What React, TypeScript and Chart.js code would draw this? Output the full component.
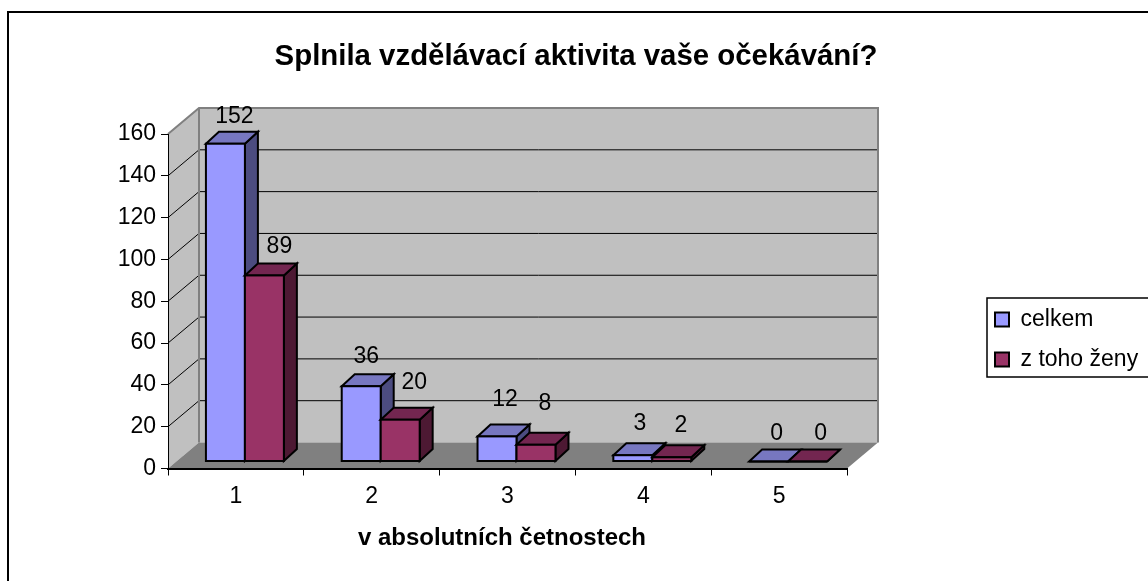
import React, { useEffect, useRef } from "react";
import { Chart, registerables } from "chart.js";

Chart.register(...registerables);

const categories = ["1", "2", "3", "4", "5"];
const celkem = [152, 36, 12, 3, 0];
const zToHoZeny = [89, 20, 8, 2, 0];
const seriesNames = ["celkem", "z toho ženy"];
const titleText = "Splnila vzdělávací aktivita vaše očekávání?";
const xTitleText = "v absolutních četnostech";
const FONT = "'Liberation Sans', Arial, sans-serif";

const FLOOR_DX = 31, FLOOR_DY = -26;
const BAR_DX = 9, BAR_DY = -7;
const DEPTH_DX = 13, DEPTH_DY = -12;
const FACE = [
  { top: "#7777C0", side: "#4C4C80" },
  { top: "#732650", side: "#4D1933" },
];
// optical nudges of the value labels relative to the bar top
const LABEL_NUDGE_X = [[9, 5, 8, 7, 8], [15, 14, 9, 9, 13]];
const LABEL_NUDGE_Y = [[-27, -30, -37, -32, -28], [-29, -37, -41, -32, -28]];

function drawBars(chart: any, index: number) {
  const { ctx } = chart;
  const meta = chart.getDatasetMeta(index);
  const face = FACE[index];
  ctx.save();
  ctx.translate(BAR_DX, BAR_DY);
  ctx.lineWidth = 2; ctx.strokeStyle = "#000"; ctx.lineJoin = "miter";
  meta.data.forEach((bar: any) => {
    const l = bar.x - bar.width / 2, r = bar.x + bar.width / 2;
    const top = bar.y, base = bar.base;
    ctx.fillStyle = face.side;
    ctx.beginPath();
    ctx.moveTo(r, top); ctx.lineTo(r + DEPTH_DX, top + DEPTH_DY);
    ctx.lineTo(r + DEPTH_DX, base + DEPTH_DY); ctx.lineTo(r, base);
    ctx.closePath(); ctx.fill(); ctx.stroke();
    ctx.fillStyle = face.top;
    ctx.beginPath();
    ctx.moveTo(l, top); ctx.lineTo(l + DEPTH_DX, top + DEPTH_DY);
    ctx.lineTo(r + DEPTH_DX, top + DEPTH_DY); ctx.lineTo(r, top);
    ctx.closePath(); ctx.fill(); ctx.stroke();
  });
  meta.controller.draw();
  meta.data.forEach((bar: any) => {
    ctx.strokeRect(bar.x - bar.width / 2, bar.y, bar.width, bar.base - bar.y);
  });
  ctx.restore();
}

const scene = {
  id: "scene",
  afterLayout(chart: any) {
    const legend = chart.legend;
    legend.left = 978; legend.right = 1148; legend.top = 291; legend.bottom = 460;
    const t = chart.titleBlock;
    t.left = 0; t.right = 1152;
    const xs = chart.scales.x;
    if (!xs.__shifted) {
      xs.__shifted = true;
      const orig = xs.drawTitle;
      xs.drawTitle = function () {
        const c = this.ctx;
        c.save(); c.translate(-5.5, 0);
        orig.call(this);
        c.restore();
      };
    }
  },
  beforeDraw(chart: any) {
    const { ctx, chartArea: a, scales } = chart;
    const y = scales.y;
    ctx.save();
    ctx.fillStyle = "#fff";
    ctx.fillRect(0, 0, chart.width, chart.height);
    // outer frame
    ctx.strokeStyle = "#000"; ctx.lineWidth = 2;
    ctx.beginPath();
    ctx.moveTo(chart.width, 12); ctx.lineTo(8, 12); ctx.lineTo(8, chart.height);
    ctx.stroke();
    // legend frame
    ctx.lineWidth = 1.5;
    ctx.beginPath();
    ctx.moveTo(chart.width, 298); ctx.lineTo(987, 298); ctx.lineTo(987, 377); ctx.lineTo(chart.width, 377);
    ctx.stroke();
    const y0 = y.getPixelForValue(0), yTop = y.getPixelForValue(160);
    // walls
    ctx.fillStyle = "#C0C0C0";
    ctx.beginPath();
    ctx.moveTo(a.left, y0); ctx.lineTo(a.left, yTop);
    ctx.lineTo(a.left + FLOOR_DX, yTop + FLOOR_DY);
    ctx.lineTo(a.right + FLOOR_DX, yTop + FLOOR_DY);
    ctx.lineTo(a.right + FLOOR_DX, y0 + FLOOR_DY);
    ctx.lineTo(a.left + FLOOR_DX, y0 + FLOOR_DY);
    ctx.closePath(); ctx.fill();
    // floor
    ctx.fillStyle = "#808080";
    ctx.beginPath();
    ctx.moveTo(a.left, y0); ctx.lineTo(a.right, y0);
    ctx.lineTo(a.right + FLOOR_DX, y0 + FLOOR_DY);
    ctx.lineTo(a.left + FLOOR_DX, y0 + FLOOR_DY);
    ctx.closePath(); ctx.fill();
    // gridlines from the value scale
    ctx.strokeStyle = "#000"; ctx.lineWidth = 1;
    y.ticks.forEach((t: any) => {
      if (t.value === 0 || t.value === 160) return;
      const py = y.getPixelForValue(t.value);
      ctx.beginPath();
      ctx.moveTo(a.left, py);
      ctx.lineTo(a.left + FLOOR_DX, py + FLOOR_DY);
      ctx.lineTo(a.right + FLOOR_DX, py + FLOOR_DY);
      ctx.stroke();
    });
    // wall edges
    ctx.strokeStyle = "#808080"; ctx.lineWidth = 2;
    ctx.beginPath();
    ctx.moveTo(a.left, yTop);
    ctx.lineTo(a.left + FLOOR_DX, yTop + FLOOR_DY);
    ctx.lineTo(a.right + FLOOR_DX, yTop + FLOOR_DY);
    ctx.lineTo(a.right + FLOOR_DX, y0 + FLOOR_DY);
    ctx.moveTo(a.left + FLOOR_DX, yTop + FLOOR_DY);
    ctx.lineTo(a.left + FLOOR_DX, y0 + FLOOR_DY);
    ctx.stroke();
    ctx.restore();
  },
  // Excel's 3-D order: the left series first, so the right series' top face lies over it.
  beforeDatasetsDraw(chart: any) {
    drawBars(chart, 0);
    drawBars(chart, 1);
  },
  beforeDatasetDraw() {
    return false;
  },
  afterDatasetsDraw(chart: any) {
    const { ctx } = chart;
    ctx.save();
    ctx.font = `23px ${FONT}`;
    ctx.fillStyle = "#000"; ctx.textAlign = "center"; ctx.textBaseline = "middle";
    chart.data.datasets.forEach((ds: any, i: number) => {
      chart.getDatasetMeta(i).data.forEach((bar: any, j: number) => {
        ctx.fillText(String(ds.data[j]), bar.x + BAR_DX + LABEL_NUDGE_X[i][j], bar.y + BAR_DY + LABEL_NUDGE_Y[i][j]);
      });
    });
    ctx.restore();
  },
};

export default function App() {
  const ref = useRef<HTMLCanvasElement>(null);
  useEffect(() => {
    const chart = new Chart(ref.current as HTMLCanvasElement, {
      type: "bar",
      data: {
        labels: categories,
        datasets: [
          { label: seriesNames[0], data: celkem, backgroundColor: "#9999FF", borderWidth: 0, clip: false, categoryPercentage: 0.574, barPercentage: 1 },
          { label: seriesNames[1], data: zToHoZeny, backgroundColor: "#993366", borderWidth: 0, clip: false, categoryPercentage: 0.574, barPercentage: 1 },
        ] as any,
      },
      options: {
        animation: false,
        responsive: false,
        layout: { padding: { left: 0, top: 0, right: 301, bottom: 0 } },
        plugins: {
          tooltip: { enabled: false },
          title: {
            display: true, text: titleText, color: "#000",
            font: { family: FONT, size: 29.4, weight: "bold", lineHeight: 1 },
            padding: { top: 42, bottom: 62.6 },
          },
          legend: {
            position: "chartArea" as any, align: "start", fullSize: false,
            labels: {
              color: "#000", font: { family: FONT, size: 23, lineHeight: 1 }, boxWidth: 14, boxHeight: 14, padding: 17,
              generateLabels: (c: any) =>
                (Chart.defaults.plugins.legend.labels as any).generateLabels(c).map((item: any) => ({ ...item, lineWidth: 2, strokeStyle: "#000" })),
            },
          },
        },
        scales: {
          x: {
            offset: true,
            afterFit: (s: any) => { s.height = 112.5; },
            grid: { offset: true, drawOnChartArea: false, drawTicks: true, tickLength: 7, color: "#000", lineWidth: 1 },
            border: { display: true, color: "#000", width: 2 },
            ticks: { color: "#000", font: { family: FONT, size: 23 }, padding: 7, maxRotation: 0 },
            title: { display: true, text: xTitleText, color: "#000", font: { family: FONT, size: 24, weight: "bold" }, padding: { top: 4, bottom: 28 } },
          },
          y: {
            min: 0, max: 160,
            afterFit: (s: any) => { s.width = 168; },
            grid: { drawOnChartArea: false, drawTicks: true, tickLength: 7, color: "#000", lineWidth: 1 },
            border: { display: true, color: "#000", width: 1 },
            ticks: { stepSize: 20, color: "#000", font: { family: FONT, size: 23 }, padding: 5 },
          },
        },
      },
      plugins: [scene],
    } as any);
    return () => chart.destroy();
  }, []);
  return (
    <div style={{ position: "fixed", left: 0, top: 0, width: 1148, height: 581, background: "#fff" }}>
      <canvas ref={ref} width={1148} height={581} style={{ display: "block" }} />
    </div>
  );
}
